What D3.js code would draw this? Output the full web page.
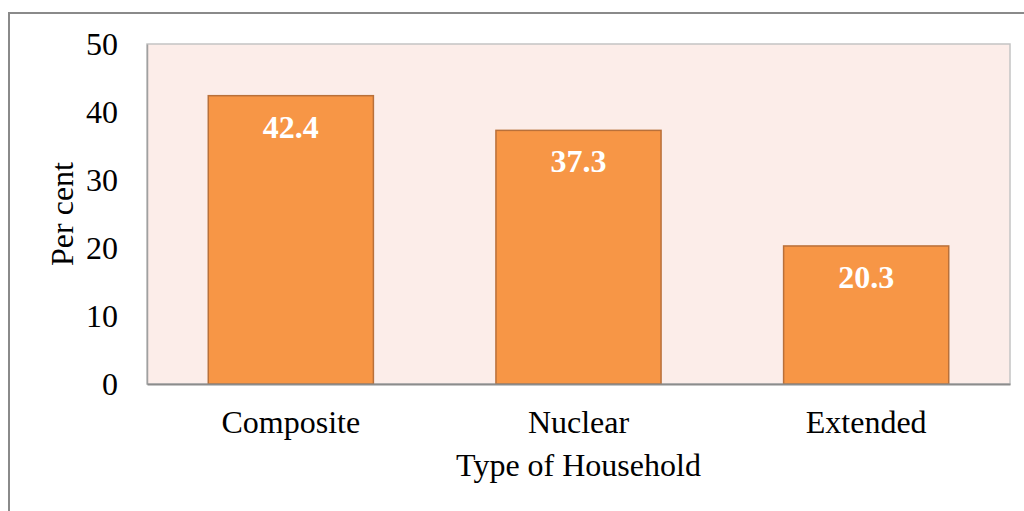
<!DOCTYPE html>
<html><head><meta charset="utf-8">
<script src="https://cdn.jsdelivr.net/npm/d3@7"></script>
<style>body{margin:0;background:#fff}svg{display:block}</style>
</head><body><svg id="c" width="1024" height="511"></svg>
<script>
const categories = ["Composite", "Nuclear", "Extended"];
const values = [42.4, 37.3, 20.3];
const yTicks = [0, 10, 20, 30, 40, 50];
const xTitle = "Type of Household";
const yTitle = "Per cent";

const svg = d3.select("#c");
const m = {l:147, t:44, r:1010, b:384};
const font = "'Liberation Serif','Times New Roman',serif";
const fs = 32;

// outer chart border
svg.append("rect").attr("x",9).attr("y",13).attr("width",1030).attr("height",520)
  .attr("fill","#fff").attr("stroke","#8a8a8a").attr("stroke-width",2);

const x = d3.scaleBand().domain(categories).range([m.l, m.r]).paddingInner(0.426).paddingOuter(0.213);
const y = d3.scaleLinear().domain([0,50]).range([m.b, m.t]);

// plot area
svg.append("rect").attr("x",m.l).attr("y",m.t).attr("width",m.r-m.l).attr("height",m.b-m.t)
  .attr("fill","#FCEDE9").attr("stroke","#c4c4c4").attr("stroke-width",1.5);

svg.selectAll("rect.bar").data(values).join("rect").attr("class","bar")
  .attr("x",(d,i)=>x(categories[i])).attr("width",x.bandwidth())
  .attr("y",d=>y(d)).attr("height",d=>y(0)-y(d))
  .attr("fill","#F79646").attr("stroke","#B9703A").attr("stroke-width",1.5);

// axes
const yAxis = d3.axisLeft(y).tickValues(yTicks).tickSize(0).tickPadding(29);
const gy = svg.append("g").attr("transform",`translate(${m.l},0)`).call(yAxis);
gy.select(".domain").attr("stroke","#a0a0a0").attr("stroke-width",1.5);
gy.selectAll("text").attr("font-family",font).attr("font-size",fs).attr("fill","#000");

const xAxis = d3.axisBottom(x).tickSize(0).tickPadding(26);
const gx = svg.append("g").attr("transform",`translate(0,${m.b})`).call(xAxis);
gx.select(".domain").attr("stroke","#8c8c8c").attr("stroke-width",2);
gx.selectAll("text").attr("font-family",font).attr("font-size",fs).attr("fill","#000");

// value labels
svg.selectAll("text.val").data(values).join("text").attr("class","val")
  .attr("x",(d,i)=>x(categories[i])+x.bandwidth()/2).attr("y",d=>y(d)+42)
  .attr("text-anchor","middle").attr("font-family",font).attr("font-size",fs)
  .attr("font-weight","bold").attr("fill","#fff").text(d=>d.toFixed(1));

svg.append("text").attr("x",(m.l+m.r)/2).attr("y",476).attr("text-anchor","middle")
  .attr("font-family",font).attr("font-size",fs).text(xTitle);
svg.append("text").attr("transform",`translate(73,${(m.t+m.b)/2}) rotate(-90)`).attr("text-anchor","middle")
  .attr("font-family",font).attr("font-size",fs).text(yTitle);
</script></body></html>
